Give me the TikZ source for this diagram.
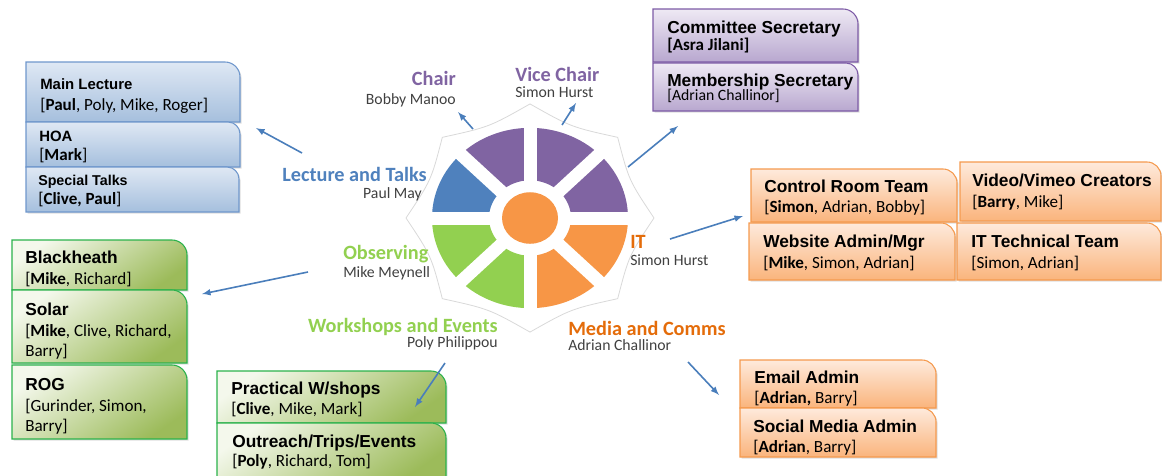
\documentclass[tikz,border=0pt]{standalone}
\usepackage{fontspec}
\setmainfont{Carlito}
\newfontfamily\arialfont{Liberation Sans}
\usetikzlibrary{shadows}

\definecolor{wpurple}{HTML}{8064A2}
\definecolor{wblue}{HTML}{4F81BD}
\definecolor{wgreen}{HTML}{92D050}
\definecolor{worange}{HTML}{F79646}
\definecolor{torange}{HTML}{E46C0A}
\definecolor{namegray}{HTML}{404040}
\definecolor{linkblue}{HTML}{4A7EBB}
\definecolor{bluetop}{HTML}{DFE8F4}
\definecolor{bluebot}{HTML}{A5BFDD}
\definecolor{blueline}{HTML}{6F97CC}
\definecolor{purpletop}{HTML}{EEE9F4}
\definecolor{purplebot}{HTML}{B8A7CF}
\definecolor{purpleline}{HTML}{7D5BA6}
\definecolor{orangetop}{HTML}{FEEADC}
\definecolor{orangebot}{HTML}{FAB47C}
\definecolor{orangeline}{HTML}{F59A4E}
\definecolor{greentop}{HTML}{F4F8EC}
\definecolor{greenbot}{HTML}{9CBB5A}
\definecolor{greenline}{HTML}{2BB24C}

% box with one rounded corner (top right)
\newcommand{\orgbox}[6]{%
  \draw[#1] (#2,#3) -- (#4-#6,#3) .. controls (#4-0.45*#6,#3) and (#4,#3+0.45*#6) .. (#4,#3+#6) -- (#4,#5) -- (#2,#5) -- cycle;}

\begin{document}
\begin{tikzpicture}[x=0.75pt, y=-0.75pt,
    boxtitle/.style={anchor=base west, inner sep=0pt, font=\arialfont\bfseries\fontsize{13}{15}\selectfont},
    smalltitle/.style={boxtitle, font=\arialfont\bfseries\fontsize{11.2}{13}\selectfont},
    members/.style={anchor=base west, inner sep=0pt, font=\fontsize{12.8}{15}\selectfont},
    headline/.style={inner sep=0pt, font=\bfseries\fontsize{15.2}{18}\selectfont},
    leader/.style={inner sep=0pt, text=namegray, font=\fontsize{11.8}{14}\selectfont},
    link/.style={-latex, line width=1.2pt, draw=linkblue},
    shade/.style={line width=0.8pt, drop shadow={opacity=0.25, shadow xshift=1.2pt, shadow yshift=-1.2pt}},
    bluebox/.style={shade, draw=blueline, top color=bluetop, bottom color=bluebot},
    purplebox/.style={shade, draw=purpleline, top color=purpletop, bottom color=purplebot},
    orangebox/.style={shade, draw=orangeline, top color=orangetop, bottom color=orangebot},
    greenbox/.style={shade, draw=greenline, top color=greentop, bottom color=greenbot, shading angle=35}]
    \useasboundingbox (0,0) rectangle (1162,475);
    %
    \begin{scope}[shift={(530,218)}, yscale=-0.92]
        \draw[black!15, fill=white, line width=0.6pt] (0:124)
            foreach \a in {45,90,...,360} { .. controls (\a-22.5:107) .. (\a:124) } -- cycle;
        \foreach \a/\c in {0/wpurple,45/wpurple,90/wpurple,135/wblue,180/wgreen,225/wgreen,270/worange,315/worange}
            \fill[\c] (\a:41) -- (\a:98) arc[start angle=\a, end angle=\a+45, radius=98]
                -- (\a+45:41) arc[start angle=\a+45, end angle=\a, radius=41] -- cycle;
        \foreach \a in {0,45,90,135}
            \draw[white, line width=9.75pt] (\a:100) -- (\a+180:100);
        \fill[worange] (0,0) circle[radius=28];
    \end{scope}
    %
    \path
    (456,85)node(chair)[headline, anchor=base east, text=wpurple]{Chair}
    (456,104)node(chairN)[leader, anchor=base east]{Bobby Manoo}
    (515,81)node(vice)[headline, anchor=base west, text=wpurple]{Vice Chair}
    (515,97)node(viceN)[leader, anchor=base west]{Simon Hurst}
    (427,181)node(lecture)[headline, anchor=base east, text=wblue]{Lecture and Talks}
    (422,198)node(lectureN)[leader, anchor=base east]{Paul May}
    (343,259)node(observe)[headline, anchor=base west, text=wgreen]{Observing}
    (343,277)node(observeN)[leader, anchor=base west]{Mike Meynell}
    (630,248)node(it)[headline, anchor=base west, text=torange]{IT}
    (630,265)node(itN)[leader, anchor=base west]{Simon Hurst}
    (498,332)node(workshop)[headline, anchor=base east, text=wgreen]{Workshops and Events}
    (498,347)node(workshopN)[leader, anchor=base east]{Poly Philippou}
    (568,335)node(media)[headline, anchor=base west, text=torange]{Media and Comms}
    (568,350)node(mediaN)[leader, anchor=base west]{Adrian Challinor};
    %
    \orgbox{bluebox}{26}{62}{240}{122}{15}
    \orgbox{bluebox}{26}{122}{240}{167}{12}
    \orgbox{bluebox}{26}{167}{239}{212}{12}
    \path
    (40,89)node(mainlec)[smalltitle]{Main Lecture}
    (40,110)node(mainlecM)[members]{[\textbf{Paul}, Poly, Mike, Roger]}
    (39,141)node(hoa)[smalltitle]{HOA}
    (39,160)node(hoaM)[members]{[\textbf{Mark}]}
    (38,185)node(special)[smalltitle, font=\arialfont\bfseries\fontsize{10.7}{13}\selectfont]{Special Talks}
    (38,204)node(specialM)[members]{[\textbf{Clive, Paul}]};
    %
    \orgbox{purplebox}{653}{9}{858}{62}{15}
    \orgbox{purplebox}{653}{63}{858}{111}{12}
    \path
    (667,33)node(comsec)[boxtitle]{Committee Secretary}
    (667,50)node(comsecM)[members]{\textbf{[Asra Jilani]}}
    (667,86)node(memsec)[boxtitle]{Membership Secretary}
    (667,100)node(memsecM)[members, font=\fontsize{11.8}{14}\selectfont]{[Adrian Challinor]};
    %
    \orgbox{orangebox}{751}{169}{957}{222}{14}
    \orgbox{orangebox}{960}{162}{1161}{221}{14}
    \orgbox{orangebox}{749}{223}{955}{280}{14}
    \orgbox{orangebox}{957}{223}{1161}{280}{14}
    \path
    (764,192)node(control)[boxtitle]{Control Room Team}
    (764,212)node(controlM)[members]{[\textbf{Simon}, Adrian, Bobby]}
    (972,186)node(video)[boxtitle]{Video/Vimeo Creators}
    (972,207)node(videoM)[members]{[\textbf{Barry}, Mike]}
    (763,247)node(website)[boxtitle]{Website Admin/Mgr}
    (763,268)node(websiteM)[members]{[\textbf{Mike}, Simon, Adrian]}
    (971,247)node(ittech)[boxtitle]{IT Technical Team}
    (971,268)node(ittechM)[members]{[Simon, Adrian]};
    %
    \orgbox{greenbox}{12}{240}{187}{290}{15}
    \orgbox{greenbox}{12}{290}{187}{363}{15}
    \orgbox{greenbox}{12}{365}{187}{439}{15}
    \path
    (25,263)node(bheath)[boxtitle]{Blackheath}
    (25,284)node(bheathM)[members]{[\textbf{Mike}, Richard]}
    (25,315)node(solar)[boxtitle]{Solar}
    (25,336)node(solarM)[members]{[\textbf{Mike}, Clive, Richard,}
    (25,356)node(solarM2)[members]{Barry]}
    (25,390)node(rog)[boxtitle]{ROG}
    (25,411)node(rogM)[members]{[Gurinder, Simon,}
    (25,431)node(rogM2)[members]{Barry]};
    %
    \orgbox{greenbox}{217}{371}{446}{423}{15}
    \orgbox{greenbox}{217}{423}{446}{480}{15}
    \path
    (231,394)node(practical)[boxtitle]{Practical W/shops}
    (231,414)node(practicalM)[members]{[\textbf{Clive}, Mike, Mark]}
    (232,447)node(outreach)[boxtitle]{Outreach/Trips/Events}
    (232,466)node(outreachM)[members]{[\textbf{Poly}, Richard, Tom]};
    %
    \orgbox{orangebox}{740}{360}{936}{408}{14}
    \orgbox{orangebox}{740}{408}{936}{457}{14}
    \path
    (754,383)node(email)[boxtitle]{Email Admin}
    (754,403)node(emailM)[members]{[\textbf{Adrian,} Barry]}
    (753,432)node(social)[boxtitle]{Social Media Admin}
    (753,452)node(socialM)[members]{[\textbf{Adrian}, Barry]};
    %
    \path
    (473,129)coordinate(chairT) (458,112)coordinate(chairH)
    (562,125)coordinate(viceT) (576,103)coordinate(viceH)
    (302,153)coordinate(lectureT) (256,128)coordinate(lectureH)
    (628,167)coordinate(secT) (678,126)coordinate(secH)
    (670,239)coordinate(itT) (743,216)coordinate(itH)
    (308,272)coordinate(observeT) (202,294)coordinate(observeH)
    (445,363)coordinate(workshopT) (415,407)coordinate(workshopH)
    (688,362)coordinate(mediaT) (719,395)coordinate(mediaH);
    \draw [link](chairT)--(chairH);
    \draw [link](viceT)--(viceH);
    \draw [link](lectureT)--(lectureH);
    \draw [link](secT)--(secH);
    \draw [link](itT)--(itH);
    \draw [link](observeT)--(observeH);
    \draw [link](workshopT)--(workshopH);
    \draw [link](mediaT)--(mediaH);
\end{tikzpicture}
\end{document}
